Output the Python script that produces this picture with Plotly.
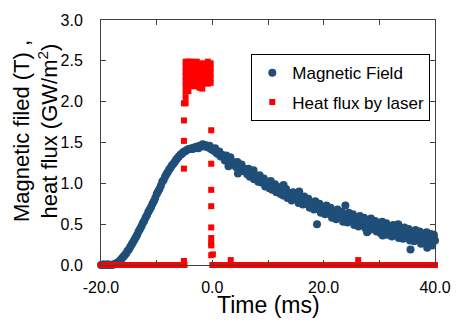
import plotly.graph_objects as go

# ---------------- data ----------------
field_time = [
    -20.0, -19.75, -19.5, -19.25, -19.0, -18.75, -18.5, -18.25, -18.0, -17.75, -17.5, -17.25,
    -17.0, -16.75, -16.5, -16.25, -16.0, -15.75, -15.5, -15.25, -15.0, -14.75, -14.5, -14.25,
    -14.0, -13.75, -13.5, -13.25, -13.0, -12.75, -12.5, -12.25, -12.0, -11.75, -11.5, -11.25,
    -11.0, -10.75, -10.5, -10.25, -10.0, -9.75, -9.5, -9.25, -9.0, -8.75, -8.5, -8.25,
    -8.0, -7.75, -7.5, -7.25, -7.0, -6.75, -6.5, -6.25, -6.0, -5.75, -5.5, -5.25,
    -5.0, -4.75, -4.5, -4.25, -4.0, -3.75, -3.5, -3.25, -3.0, -2.75, -2.5, -2.25,
    -2.0, -1.75, -1.5, -1.25, -1.0, -0.75, -0.5, -0.25, 0.0, 0.25, 0.5, 0.75,
    1.0, 1.25, 1.5, 1.75, 2.0, 2.25, 2.5, 2.75, 3.0, 3.25, 3.5, 3.75,
    4.0, 4.25, 4.5, 4.75, 5.0, 5.25, 5.5, 5.75, 6.0, 6.25, 6.5, 6.75,
    7.0, 7.25, 7.5, 7.75, 8.0, 8.25, 8.5, 8.75, 9.0, 9.25, 9.5, 9.75,
    10.0, 10.25, 10.5, 10.75, 11.0, 11.25, 11.5, 11.75, 12.0, 12.25, 12.5, 12.75,
    13.0, 13.25, 13.5, 13.75, 14.0, 14.25, 14.5, 14.75, 15.0, 15.25, 15.5, 15.75,
    16.0, 16.25, 16.5, 16.75, 17.0, 17.25, 17.5, 17.75, 18.0, 18.25, 18.5, 18.75,
    19.0, 19.25, 19.5, 19.75, 20.0, 20.25, 20.5, 20.75, 21.0, 21.25, 21.5, 21.75,
    22.0, 22.25, 22.5, 22.75, 23.0, 23.25, 23.5, 23.75, 24.0, 24.25, 24.5, 24.75,
    25.0, 25.25, 25.5, 25.75, 26.0, 26.25, 26.5, 26.75, 27.0, 27.25, 27.5, 27.75,
    28.0, 28.25, 28.5, 28.75, 29.0, 29.25, 29.5, 29.75, 30.0, 30.25, 30.5, 30.75,
    31.0, 31.25, 31.5, 31.75, 32.0, 32.25, 32.5, 32.75, 33.0, 33.25, 33.5, 33.75,
    34.0, 34.25, 34.5, 34.75, 35.0, 35.25, 35.5, 35.75, 36.0, 36.25, 36.5, 36.75,
    37.0, 37.25, 37.5, 37.75, 38.0, 38.25, 38.5, 38.75, 39.0, 39.25, 39.5, 39.75,
    40.0,
    # scattered outliers
    18.8, 23.9, 35.6, 4.6, 12.8, 30.6, 38.6, 2.9, 7.4, 15.6, 27.8, 33.4, 39.8,
]
field_tesla = [
    0.00, 0.00, 0.01, 0.00, 0.00, 0.01, 0.00, 0.00, 0.00, 0.01, 0.01, 0.02,
    0.03, 0.04, 0.06, 0.08, 0.10, 0.12, 0.14, 0.17, 0.19, 0.22, 0.25, 0.28,
    0.31, 0.34, 0.37, 0.41, 0.44, 0.47, 0.51, 0.54, 0.58, 0.61, 0.65, 0.68,
    0.71, 0.75, 0.78, 0.82, 0.87, 0.90, 0.93, 0.97, 1.02, 1.04, 1.08, 1.11,
    1.14, 1.17, 1.19, 1.22, 1.24, 1.26, 1.29, 1.31, 1.33, 1.35, 1.36, 1.38,
    1.39, 1.40, 1.41, 1.42, 1.42, 1.43, 1.42, 1.44, 1.44, 1.45, 1.43, 1.46,
    1.46, 1.48, 1.45, 1.47, 1.45, 1.44, 1.46, 1.42, 1.41, 1.40, 1.43, 1.37,
    1.36, 1.39, 1.33, 1.35, 1.32, 1.28, 1.34, 1.27, 1.29, 1.32, 1.24, 1.26,
    1.24, 1.20, 1.26, 1.18, 1.20, 1.23, 1.15, 1.18, 1.15, 1.11, 1.18, 1.08,
    1.12, 1.15, 1.05, 1.10, 1.07, 1.02, 1.10, 1.01, 1.03, 1.06, 0.96, 1.01,
    0.98, 0.94, 1.03, 0.92, 0.96, 0.99, 0.89, 0.95, 0.90, 0.87, 0.96, 0.85,
    0.89, 0.93, 0.82, 0.86, 0.86, 0.79, 0.89, 0.81, 0.83, 0.87, 0.76, 0.80,
    0.79, 0.74, 0.84, 0.75, 0.77, 0.81, 0.70, 0.76, 0.72, 0.68, 0.78, 0.69,
    0.71, 0.75, 0.64, 0.70, 0.66, 0.62, 0.73, 0.63, 0.66, 0.70, 0.58, 0.63,
    0.61, 0.56, 0.68, 0.59, 0.61, 0.65, 0.53, 0.60, 0.57, 0.52, 0.64, 0.55,
    0.57, 0.62, 0.49, 0.56, 0.53, 0.47, 0.60, 0.50, 0.53, 0.58, 0.45, 0.52,
    0.49, 0.43, 0.57, 0.46, 0.49, 0.54, 0.41, 0.50, 0.45, 0.39, 0.53, 0.42,
    0.45, 0.51, 0.37, 0.44, 0.41, 0.35, 0.49, 0.39, 0.41, 0.47, 0.33, 0.42,
    0.38, 0.32, 0.46, 0.35, 0.38, 0.44, 0.30, 0.38, 0.35, 0.29, 0.43, 0.32,
    0.35, 0.41, 0.26, 0.36, 0.32, 0.27, 0.40, 0.29, 0.32, 0.38, 0.24, 0.34,
    0.30,
    0.50, 0.73, 0.19, 1.12, 0.98, 0.36, 0.21, 1.21, 1.16, 0.90, 0.40, 0.50, 0.37,
]

heat_time = [
    # baseline before pulse
    -20.0, -19.5, -19.0, -18.5, -18.0, -17.5, -17.0, -16.5, -16.0, -15.5, -15.0,
    -14.5, -14.0, -13.5, -13.0, -12.5, -12.0, -11.5, -11.0, -10.5, -10.0, -9.5,
    -9.0, -8.5, -8.0, -7.5, -7.0, -6.5, -6.0, -5.5, -5.0,
    # rising edge column
    -5.1, -5.1, -5.1, -5.1, -5.1,
    # pulse plateau
    -4.8, -4.8, -4.8, -4.8, -4.8, -4.8, -4.8, -4.8, -4.8,
    -4.3, -4.3, -4.3, -4.3, -4.3, -4.3, -4.3,
    -3.8, -3.8, -3.8, -3.8, -3.8, -3.8,
    -3.3, -3.3, -3.3, -3.3, -3.3, -3.3,
    -2.8, -2.8, -2.8, -2.8, -2.8, -2.8,
    -2.3, -2.3, -2.3, -2.3, -2.3, -2.3,
    -1.8, -1.8, -1.8, -1.8, -1.8, -1.8,
    -1.3, -1.3, -1.3, -1.3, -1.3,
    -0.8, -0.8, -0.8, -0.8, -0.8, -0.8,
    -0.3, -0.3, -0.3, -0.3, -0.3,
    # falling edge column
    -0.2, -0.2, -0.2, -0.2, -0.2, -0.2, -0.2, -0.2, -0.2,
    # baseline after pulse
    0.0, 0.5, 1.0, 1.5, 2.0, 2.5, 3.0, 3.5, 4.0, 4.5, 5.0, 5.5, 6.0, 6.5, 7.0, 7.5,
    8.0, 8.5, 9.0, 9.5, 10.0, 10.5, 11.0, 11.5, 12.0, 12.5, 13.0, 13.5, 14.0, 14.5,
    15.0, 15.5, 16.0, 16.5, 17.0, 17.5, 18.0, 18.5, 19.0, 19.5, 20.0, 20.5, 21.0,
    21.5, 22.0, 22.5, 23.0, 23.5, 24.0, 24.5, 25.0, 25.5, 26.0, 26.5, 27.0, 27.5,
    28.0, 28.5, 29.0, 29.5, 30.0, 30.5, 31.0, 31.5, 32.0, 32.5, 33.0, 33.5, 34.0,
    34.5, 35.0, 35.5, 36.0, 36.5, 37.0, 37.5, 38.0, 38.5, 39.0, 39.5, 40.0,
    # small blips
    3.3, 26.2, 0.1,
]
heat_gw = (
    [0.0] * 31
    + [0.05, 1.18, 1.52, 1.77, 1.98]
    + [2.49, 2.43, 2.37, 2.31, 2.25, 2.19, 2.12, 2.05, 1.98]
    + [2.49, 2.43, 2.37, 2.31, 2.25, 2.19, 2.13]
    + [2.49, 2.43, 2.37, 2.31, 2.25, 2.19]
    + [2.48, 2.42, 2.36, 2.30, 2.24, 2.19]
    + [2.49, 2.43, 2.37, 2.31, 2.25, 2.19]
    + [2.47, 2.41, 2.35, 2.29, 2.23, 2.17]
    + [2.46, 2.40, 2.34, 2.28, 2.22, 2.16]
    + [2.47, 2.41, 2.35, 2.29, 2.23]
    + [2.49, 2.43, 2.37, 2.31, 2.25, 2.22]
    + [2.47, 2.41, 2.35, 2.29, 2.23]
    + [0.12, 0.24, 0.27, 0.33, 0.46, 0.72, 0.92, 1.24, 1.65]
    + [0.0] * 81
    + [0.06, 0.06, 0.13]
)

x_tick_vals = [-20, 0, 20, 40]
x_tick_text = ["-20.0", "0.0", "20.0", "40.0"]
y_tick_vals = [0.0, 0.5, 1.0, 1.5, 2.0, 2.5, 3.0]
y_tick_text = ["0.0", "0.5", "1.0", "1.5", "2.0", "2.5", "3.0"]

# ---------------- figure ----------------
FONT = "Liberation Sans, Arial, sans-serif"
BLUE = "#1F4E79"
RED = "#FF0000"

fig = go.Figure()
fig.add_trace(go.Scatter(
    x=field_time, y=field_tesla, mode="markers", name="Magnetic Field",
    legendgroup="a",
    marker=dict(color=BLUE, size=8, symbol="circle", line=dict(width=0)),
    cliponaxis=False,
))
fig.add_trace(go.Scatter(
    x=heat_time, y=heat_gw, mode="markers", name="Heat flux by laser",
    legendgroup="b",
    marker=dict(color=RED, size=6, symbol="square", line=dict(width=0)),
    cliponaxis=False,
))

axis_common = dict(
    showline=True, linecolor="#404040", linewidth=1, mirror="ticks",
    ticks="inside", ticklen=5, tickcolor="#404040", tickwidth=1,
    showgrid=False, zeroline=False,
    tickfont=dict(family=FONT, size=16, color="#000000"),
)

fig.update_layout(
    width=463, height=322,
    margin=dict(l=101, r=21, t=14, b=57),
    paper_bgcolor="white", plot_bgcolor="white",
    font=dict(family=FONT, color="#000000"),
    xaxis=dict(range=[-20, 40], tickmode="array", tickvals=x_tick_vals,
               ticktext=x_tick_text, ticklabelstandoff=8,
               minor=dict(ticks="inside", dtick=10, ticklen=5,
                          tickcolor="#404040", tickwidth=1, showgrid=False),
               **axis_common),
    yaxis=dict(range=[0, 3], tickmode="array", tickvals=y_tick_vals,
               ticktext=y_tick_text, ticklabelstandoff=14, **axis_common),
    showlegend=True,
    legend=dict(
        x=0.45, y=0.86, xanchor="left", yanchor="top",
        bordercolor="#000000", borderwidth=1, bgcolor="white",
        font=dict(family=FONT, size=17, color="#000000"),
        traceorder="grouped", tracegroupgap=4,
    ),
    annotations=[
        dict(text="Time (ms)", xref="paper", yref="paper", x=0.5, y=-0.163,
             xanchor="center", yanchor="middle", showarrow=False,
             font=dict(family=FONT, size=23, color="#000000")),
        dict(text="Magnetic filed (T) ,<br>heat flux (GW/m<sup>2</sup>)",
             xref="paper", yref="paper", x=-0.195, y=0.546,
             xanchor="center", yanchor="middle", showarrow=False, textangle=-90,
             font=dict(family=FONT, size=22, color="#000000")),
    ],
)

fig.write_html("out.html")
